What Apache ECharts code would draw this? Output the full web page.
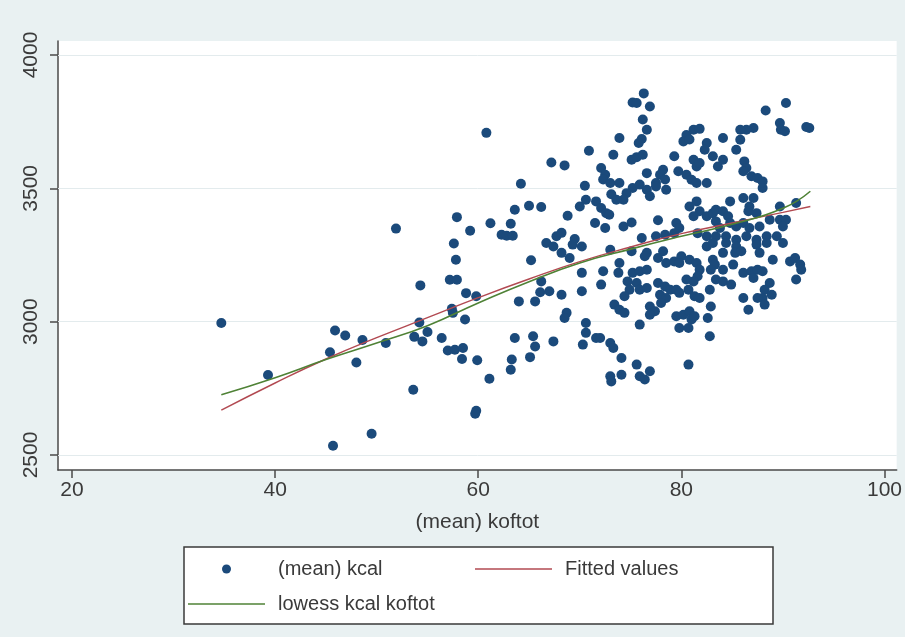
<!DOCTYPE html>
<html>
<head>
<meta charset="utf-8">
<script src="https://cdn.jsdelivr.net/npm/echarts@6/dist/echarts.min.js"></script>
<style>
html,body{margin:0;padding:0;background:#e9f1f2;}
#chart{width:905px;height:637px;}
</style>
</head>
<body>
<div id="chart"></div>
<script>
// (mean) koftot vs (mean) kcal
const kcalPoints = [
[34.7,2995],[39.3,2800],[45.9,2967],[46.9,2948],[45.4,2885],[48.6,2931],[48.0,2847],[50.9,2920],[45.7,2535],[49.5,2580],
[53.6,2745],[54.2,2997],[53.7,2943],[54.5,2926],[55.0,2961],[56.4,2939],[54.3,3136],[57.2,3157],[57.9,3157],[58.8,3107],
[59.8,3095],[57.4,3048],[58.7,3008],[57.0,2892],[57.7,2895],[58.5,2901],[58.4,2860],[59.9,2855],[61.1,2786],[59.8,2666],
[59.7,2655],[51.9,3349],[57.9,3392],[57.6,3293],[57.8,3232],[59.2,3341],[61.2,3369],[60.8,3708],[57.5,3033],
[64.2,3517],[67.2,3597],[68.5,3586],[70.9,3641],[73.3,3626],[73.9,3689],[75.2,3822],[76.9,3807],[76.2,3758],[76.6,3720],
[76.1,3685],[75.8,3670],[75.1,3607],[75.6,3617],[76.2,3626],[72.1,3576],[72.5,3551],[72.3,3533],[73.0,3520],[78.2,3570],
[77.9,3551],[78.4,3533],[77.5,3520],[76.6,3557],[73.9,3520],[75.2,3501],[74.6,3482],[74.3,3457],[70.5,3510],[73.1,3478],
[73.6,3457],[76.6,3495],[76.9,3470],[70.6,3457],[71.6,3451],[72.1,3426],[72.6,3407],[72.9,3401],[70.0,3432],[68.8,3397],
[71.5,3370],[72.5,3351],[74.3,3357],[75.1,3372],[77.7,3380],[76.1,3314],[77.5,3320],[78.4,3326],[65.0,3435],[66.2,3430],
[63.6,3420],[63.2,3367],[62.3,3326],[62.8,3322],[63.4,3322],
[66.7,3295],[67.7,3320],[68.2,3333],[67.4,3282],[69.5,3310],[70.2,3282],[69.3,3289],[68.2,3258],[69.0,3239],[65.2,3230],
[70.2,3183],[70.2,3114],[66.2,3151],[66.1,3110],[67.0,3114],[68.2,3101],[65.6,3076],[64.0,3076],[68.7,3033],[68.5,3014],
[70.6,2995],[70.6,2958],[71.6,2939],[70.3,2914],[63.6,2939],[65.4,2945],[65.6,2907],[67.4,2926],[65.1,2867],[63.3,2858],
[63.2,2820],
[76.3,3856],[75.6,3820],[77.5,3507],[78.5,3495],[75.9,3514],[80.5,3700],[81.2,3720],[81.8,3723],[80.2,3676],[80.8,3683],
[82.5,3670],[82.3,3645],[79.3,3620],[81.2,3607],[81.5,3582],[81.8,3595],[83.1,3620],[83.6,3582],[79.7,3564],[80.5,3551],
[81.0,3532],[81.5,3520],[82.5,3520],[79.5,3370],[79.8,3351],[79.3,3332],[80.8,3432],[81.5,3451],[81.8,3414],[81.2,3395],
[82.5,3395],[83.1,3407],[81.6,3332],[82.5,3320],[83.4,3320],
[90.3,3820],[88.3,3792],[89.7,3745],[89.8,3720],[90.2,3714],[92.3,3730],[92.6,3726],[87.1,3726],[86.4,3720],[85.8,3720],
[85.8,3682],[85.4,3645],[84.1,3689],[84.1,3607],[86.2,3601],[86.4,3576],[86.1,3564],[86.9,3545],[87.5,3539],[88.0,3526],
[88.0,3501],[84.8,3451],[86.1,3464],[87.1,3464],[86.7,3432],[86.6,3414],[87.4,3407],[83.4,3420],[84.1,3414],[84.6,3395],
[83.4,3376],[84.8,3370],[83.8,3351],[89.7,3432],[91.3,3445],[88.7,3382],[89.7,3382],[90.3,3382],[85.4,3357],[86.1,3370],
[86.7,3351],[87.7,3357],[84.4,3320],[85.4,3307],[86.4,3320],[87.4,3307],[88.4,3320],[89.4,3320],[90.0,3295],
[90.0,3357],[90.7,3226],[91.2,3239],[91.7,3214],[91.8,3195],[91.3,3158],
[73.0,3270],[75.1,3264],[76.6,3258],[76.4,3245],[78.2,3264],[77.7,3239],[78.5,3220],[79.3,3226],[80.0,3245],[79.8,3220],
[80.8,3232],[81.5,3220],[81.8,3195],[81.6,3170],[82.5,3282],[83.1,3232],[83.3,3214],[82.9,3195],[72.3,3189],[72.1,3139],
[73.9,3220],[73.8,3183],[75.2,3183],[75.9,3189],[76.6,3195],[74.7,3151],[75.6,3145],[74.9,3120],[75.9,3120],[76.6,3126],
[74.4,3095],[77.7,3145],[78.4,3132],[78.9,3120],[79.5,3120],[77.9,3101],[78.5,3089],[78.0,3070],[79.8,3108],[80.5,3158],
[81.2,3151],[80.7,3120],[81.3,3095],[81.8,3089],[82.8,3120],[82.9,3057],[82.6,3014],[82.8,2945],[73.4,3064],[73.9,3045],
[74.4,3033],[76.9,3057],[77.4,3039],[76.9,3026],[75.9,2989],[79.5,3020],[80.2,3026],[80.8,3039],[81.0,3008],[79.8,2976],
[80.7,2976],[81.3,3020],[72.0,2939],[73.0,2920],[73.3,2901],[74.1,2864],[75.6,2839],[76.9,2814],[75.9,2795],[76.4,2783],
[73.0,2795],[74.1,2801],[80.7,2839],[73.1,2776],
[83.1,3295],[84.4,3295],[85.4,3282],[87.4,3289],[88.4,3295],[84.1,3258],[85.3,3258],[85.9,3264],[87.7,3258],[89.0,3232],
[84.1,3195],[85.1,3214],[86.1,3183],[86.9,3189],[87.5,3195],[88.0,3189],[87.1,3164],[83.4,3158],[84.1,3151],[84.9,3139],
[88.7,3145],[88.2,3120],[88.9,3101],[88.0,3089],[86.1,3089],[87.5,3089],[88.2,3064],[86.6,3045]
];

// Fitted values and lowess curve
const curveX   = [34.7, 40, 45, 50, 55, 60, 65, 70, 75, 80, 85, 90, 92.7];
const fittedY  = [2668, 2770, 2860, 2940, 3015, 3090, 3160, 3225, 3280, 3330, 3370, 3410, 3432];
const lowessY  = [2726, 2790, 2858, 2920, 2985, 3070, 3150, 3220, 3272, 3320, 3365, 3425, 3489];

// Axis ticks
const xTicks = [20, 40, 60, 80, 100];
const yTicks = [2500, 3000, 3500, 4000];

const FONT = '"Liberation Sans", Arial, sans-serif';
const TXT = '#3a3a3a';

const chart = echarts.init(document.getElementById('chart'), null, {renderer: 'canvas'});

const legendBase = {
  orient: 'horizontal',
  padding: 0,
  selectedMode: false,
  textStyle: {fontFamily: FONT, fontSize: 20, color: TXT}
};

chart.setOption({
  backgroundColor: '#e9f1f2',
  animation: false,
  grid: {
    left: 58, right: 8, top: 41, bottom: 167,
    show: true, backgroundColor: '#ffffff', borderWidth: 0
  },
  xAxis: {
    type: 'value',
    min: 18.62, max: 101.2,
    name: '(mean) koftot',
    nameLocation: 'middle',
    nameGap: 42,
    nameTextStyle: {fontFamily: FONT, fontSize: 21, color: TXT},
    axisLine: {show: true, onZero: false, lineStyle: {color: '#4a4a4a', width: 1.5}},
    axisTick: {show: true, length: 8, customValues: xTicks, lineStyle: {color: '#4a4a4a', width: 1.5}},
    axisLabel: {customValues: xTicks, margin: 10, fontFamily: FONT, fontSize: 21, color: TXT,
                formatter: v => String(v)},
    splitLine: {show: false}
  },
  yAxis: {
    type: 'value',
    min: 2443.75, max: 4052.5,
    axisLine: {show: true, onZero: false, lineStyle: {color: '#4a4a4a', width: 1.5}},
    axisTick: {show: true, length: 8, customValues: yTicks, lineStyle: {color: '#4a4a4a', width: 1.5}},
    axisLabel: {customValues: yTicks, rotate: 90, margin: 16, fontFamily: FONT, fontSize: 21, color: TXT,
                formatter: v => String(v)},
    splitLine: {show: false}
  },
  legend: [
    Object.assign({}, legendBase, {
      data: [{name: '(mean) kcal', icon: 'circle'}], left: 222, top: 559,
      itemWidth: 9, itemHeight: 9,
      textStyle: Object.assign({}, legendBase.textStyle, {padding: [0, 0, 0, 42]})
    }),
    Object.assign({}, legendBase, {
      data: [{name: 'Fitted values', icon: 'rect'}], left: 475, top: 559,
      itemWidth: 77, itemHeight: 1.5,
      textStyle: Object.assign({}, legendBase.textStyle, {padding: [0, 0, 0, 8]})
    }),
    Object.assign({}, legendBase, {
      data: [{name: 'lowess kcal koftot', icon: 'rect'}], left: 188, top: 594,
      itemWidth: 77, itemHeight: 1.5,
      textStyle: Object.assign({}, legendBase.textStyle, {padding: [0, 0, 0, 8]})
    })
  ],
  graphic: [{
    type: 'rect', z: 1,
    shape: {x: 184, y: 547, width: 589, height: 77},
    style: {fill: '#ffffff', stroke: '#3a3a3a', lineWidth: 1.5}
  }],
  series: [
    {
      name: '(mean) kcal',
      type: 'scatter',
      symbol: 'circle',
      symbolSize: 10,
      itemStyle: {color: '#1b4a7b', opacity: 1},
      data: kcalPoints,
      z: 3,
      markLine: {
        silent: true, symbol: 'none', label: {show: false},
        lineStyle: {color: '#e3ebed', type: 'solid', width: 1},
        data: yTicks.map(v => ({yAxis: v})),
        z: 1
      }
    },
    {
      name: 'Fitted values',
      type: 'line',
      symbol: 'none',
      smooth: true,
      lineStyle: {color: '#b24a52', width: 1.4},
      itemStyle: {color: '#b24a52'},
      data: curveX.map((x, i) => [x, fittedY[i]]),
      z: 4
    },
    {
      name: 'lowess kcal koftot',
      type: 'line',
      symbol: 'none',
      smooth: true,
      lineStyle: {color: '#4f8236', width: 1.6},
      itemStyle: {color: '#4f8236'},
      data: curveX.map((x, i) => [x, lowessY[i]]),
      z: 5
    }
  ]
});
</script>
</body>
</html>
